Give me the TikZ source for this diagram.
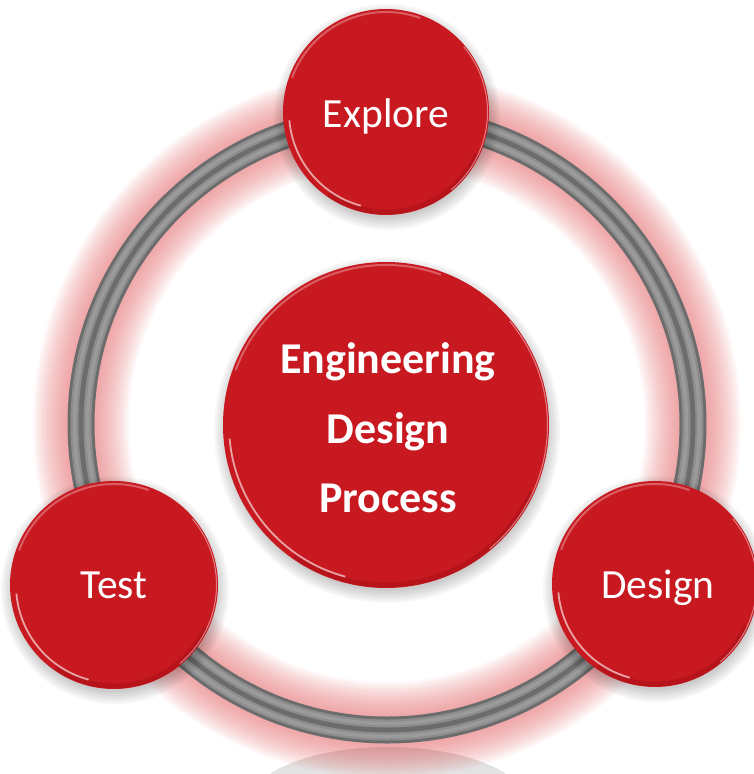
\documentclass[tikz,border=0pt]{standalone}
\usepackage{fontspec}
\setmainfont{Carlito}
\definecolor{bubblered}{RGB}{200,25,32}
\definecolor{bubbledark}{RGB}{150,10,18}
\definecolor{ringdark}{RGB}{108,108,108}
\definecolor{ringlight}{RGB}{155,155,155}
\definecolor{glowpink}{RGB}{228,110,112}
\tikzset{
  bubble/.style={circle, fill=bubblered, inner sep=0pt, draw=none},
  lbl/.style={text=white, inner sep=0pt, font=\fontsize{41.5}{50}\selectfont},
  mainlbl/.style={text=white, inner sep=0pt, font=\bfseries\fontsize{44}{50}\selectfont},
}
% #1 name, #2 x, #3 y, #4 radius
\newcommand\mybubble[4]{%
  \foreach \k in {0,2,...,12} \fill[black, opacity=0.03] (#2+1,#3+5) circle[radius=#4+\k-2];
  \node[bubble, minimum size=2*#4 pt] (#1) at (#2,#3) {};
  \draw[bubbledark, opacity=0.35, line width=5pt] (#1.center) ++(-235:#4-3) arc[start angle=-235, end angle=-335, radius=#4-3];
  \draw[white, opacity=0.6, line width=1.8pt] (#1.center) ++(-185:#4-6) arc[start angle=-185, end angle=-255, radius=#4-6];
  \draw[white, opacity=0.3, line width=2pt] (#1.center) ++(-70:#4-3) arc[start angle=-70, end angle=-160, radius=#4-3];
  \draw[white, opacity=0.45, line width=1pt] (#1.center) ++(50:#4-1.5) arc[start angle=50, end angle=-40, radius=#4-1.5];
}
\begin{document}
\begin{tikzpicture}[x=1pt,y=-1pt]
\useasboundingbox (0,0) rectangle (753,774);
\coordinate (c) at (387,424);
% reflection at the bottom
\begin{scope}
  \clip (0,0) rectangle (753,774);
  \shade[top color=gray!28, bottom color=white] (388,805) ellipse[x radius=140, y radius=58];
\end{scope}
% glow round the ring
\foreach \w in {96,92,...,30} \draw[glowpink, line width=\w pt, opacity=0.05] (c) circle[radius=306];
% ring
\draw[ringdark, line width=27pt] (c) circle[radius=306];
\foreach \r in {299.5,312.5} {
  \draw[ringlight!70!ringdark, line width=8pt] (c) circle[radius=\r];
  \draw[ringlight, line width=3.5pt] (c) circle[radius=\r];
}
% bubbles
\mybubble{explore}{386}{112}{103}
\mybubble{test}{114}{585}{104}
\mybubble{design}{655}{584}{103}
\mybubble{main}{386}{425}{163}
% labels
\node[lbl, anchor=base] (explore-t) at (386,127) {Explore};
\node[lbl, anchor=base] (test-t) at (114,598) {Test};
\node[lbl, anchor=base] (design-t) at (658,598) {Design};
\node[mainlbl, anchor=base] (main-t1) at (388,373) {Engineering};
\node[mainlbl, anchor=base] (main-t2) at (388,443) {Design};
\node[mainlbl, anchor=base] (main-t3) at (388,512) {Process};
\end{tikzpicture}
\end{document}
